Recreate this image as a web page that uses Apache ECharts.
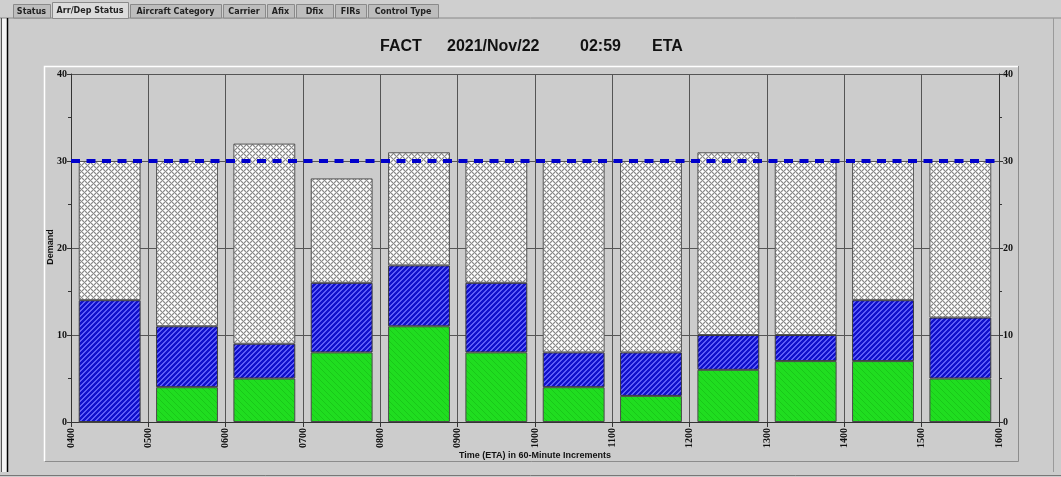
<!DOCTYPE html>
<html>
<head>
<meta charset="utf-8">
<script src="https://cdn.jsdelivr.net/npm/echarts@6/dist/echarts.min.js"></script>
<style>
html,body{margin:0;padding:0;background:#cccccc;}
#chart{width:1061px;height:477px;}
</style>
</head>
<body>
<div id="chart"></div>
<script>
// ---- data ----
const categories = ['0400','0500','0600','0700','0800','0900','1000','1100','1200','1300','1400','1500'];
const tickLabels = ['0400','0500','0600','0700','0800','0900','1000','1100','1200','1300','1400','1500','1600'];
const greenValues = [0, 4, 5, 8, 11, 8, 4, 3, 6, 7, 7, 5];
const blueValues  = [14, 7, 4, 8, 7, 8, 4, 5, 4, 3, 7, 7];
const otherValues = [16, 19, 23, 12, 13, 14, 22, 22, 21, 20, 16, 18];
const capacity = 30;
const yLabels = [0, 10, 20, 30, 40];
const tabs = ['Status','Arr/Dep Status','Aircraft Category','Carrier','Afix','Dfix','FIRs','Control Type'];
const titleParts = ['FACT','2021/Nov/22','02:59','ETA'];

// ---- patterns ----
function tile(size, fn){
  const c = document.createElement('canvas');
  c.width = size; c.height = size;
  const ctx = c.getContext('2d');
  for (let x=0;x<size;x++) for (let y=0;y<size;y++){
    ctx.fillStyle = fn(x,y);
    ctx.fillRect(x,y,1,1);
  }
  return c;
}
const bluePat = tile(5, (x,y)=> ((x+y)%5===0 || (x+y)%5===1) ? '#5c5cf8' : '#1010cc');
const greenPat = tile(6, (x,y)=> ((x-y+6)%6===0) ? '#19c819' : '#20dd20');
const hatchPat = tile(6, (x,y)=> {
  const a = (x+y)%6, b = (x-y+6)%6;
  if (a===0 || b===0) return '#8a8a8a';
  if (a===1 || b===1 || a===5 || b===5) return '#d4d4d4';
  return '#ffffff';
});

const chart = echarts.init(document.getElementById('chart'), null, {renderer:'canvas'});
const labelFont = {fontFamily:'Liberation Serif', fontWeight:'bold', fontSize:10, color:'#111'};

// tabs
const tabX = [13,52,130,223,267,296,335,368,440];
const gfx = [];
gfx.push({type:'rect', shape:{x:0,y:0,width:1061,height:18}, style:{fill:'#cfcfcf'}, z:1});
gfx.push({type:'line', shape:{x1:0,y1:18,x2:1061,y2:18}, style:{stroke:'#888',lineWidth:1}, z:2});
tabs.forEach((t,i)=>{
  const x0 = tabX[i], x1 = tabX[i+1]-2;
  const sel = i===1;
  gfx.push({type:'rect', shape:{x:x0+0.5,y:sel?2.5:4.5,width:x1-x0,height:sel?16:13.5},
    style:{fill: sel?'#dcdcdc':'#bdbdbd', stroke:'#8a8a8a', lineWidth:1}, z:3});
  gfx.push({type:'text', style:{text:t, x:(x0+x1)/2, y:sel?11:11.5, align:'center', verticalAlign:'middle',
    font:'bold 8px "DejaVu Sans"', fill:'#222'}, z:4});
});
// window frame
gfx.push({type:'line', shape:{x1:1.5,y1:18,x2:1.5,y2:472}, style:{stroke:'#555',lineWidth:1}, z:2});
gfx.push({type:'rect', shape:{x:2,y:18,width:5,height:454}, style:{fill:'#f4f4f4'}, z:1});
gfx.push({type:'line', shape:{x1:7.5,y1:18,x2:7.5,y2:472}, style:{stroke:'#000',lineWidth:1.5}, z:2});
gfx.push({type:'line', shape:{x1:1053.5,y1:18,x2:1053.5,y2:472}, style:{stroke:'#9a9a9a',lineWidth:1}, z:2});
gfx.push({type:'line', shape:{x1:0,y1:475.5,x2:1061,y2:475.5}, style:{stroke:'#777',lineWidth:1}, z:2});
// panel etched border
gfx.push({type:'polyline', shape:{points:[[44.5,461],[44.5,66.5],[1018,66.5]]}, style:{stroke:'#ffffff',lineWidth:1.5,fill:null}, z:2});
gfx.push({type:'polyline', shape:{points:[[45,461.5],[1018.5,461.5],[1018.5,66]]}, style:{stroke:'#8c8c8c',lineWidth:1,fill:null}, z:2});
// title
const titleX = [380,447,580,652];
titleParts.forEach((t,i)=>{
  gfx.push({type:'text', style:{text:t, x:titleX[i], y:47, align:'left', verticalAlign:'middle',
    font:'bold 16px "Liberation Sans"', fill:'#111'}, z:5});
});
// axis names
gfx.push({type:'text', rotation:Math.PI/2, x:51, y:247, style:{text:'Demand', x:0, y:0, align:'center', verticalAlign:'middle',
  font:'bold 9px "Liberation Sans"', fill:'#111'}, z:5});
gfx.push({type:'text', style:{text:'Time (ETA) in 60-Minute Increments', x:535, y:456, align:'center', verticalAlign:'middle',
  font:'bold 9px "Liberation Sans"', fill:'#111'}, z:5});

const yAxisCommon = {
  type:'value', min:0, max:40, interval:10,
  axisLine:{show:true, lineStyle:{color:'#333', width:1}},
  axisTick:{show:true, length:4, lineStyle:{color:'#333'}},
  minorTick:{show:true, splitNumber:2, length:3, lineStyle:{color:'#333'}},
  axisLabel:Object.assign({margin:4, formatter:(v)=> yLabels.includes(v)? String(v):''}, labelFont)
};

chart.setOption({
  backgroundColor:'#cccccc',
  animation:false,
  graphic: gfx,
  grid:{left:71, right:62, top:74, bottom:55, containLabel:false},
  xAxis:[
    {type:'category', data:categories, show:false, boundaryGap:true},
    {type:'value', min:0, max:12, interval:1, position:'bottom',
     axisLine:{show:true, onZero:false, lineStyle:{color:'#333', width:1}},
     axisTick:{show:true, length:5, lineStyle:{color:'#333'}},
     axisLabel:Object.assign({rotate:90, margin:6, formatter:(v)=>tickLabels[v]}, labelFont, {fontSize:10}),
     splitLine:{show:true, lineStyle:{color:'#555', width:1}}
    }
  ],
  yAxis:[
    Object.assign({position:'left', splitLine:{show:true, lineStyle:{color:'#555', width:1}}}, yAxisCommon),
    Object.assign({position:'right', splitLine:{show:false}}, yAxisCommon)
  ],
  series:[
    {name:'green', type:'bar', stack:'d', xAxisIndex:0, yAxisIndex:0, barWidth:'80%', data:greenValues,
     itemStyle:{color:{image:greenPat, repeat:'repeat'}, borderColor:'#4a4a4a', borderWidth:1}},
    {name:'blue', type:'bar', stack:'d', xAxisIndex:0, yAxisIndex:0, barWidth:'80%', data:blueValues,
     itemStyle:{color:{image:bluePat, repeat:'repeat'}, borderColor:'#3a3a3a', borderWidth:1}},
    {name:'other', type:'bar', stack:'d', xAxisIndex:0, yAxisIndex:0, barWidth:'80%', data:otherValues,
     itemStyle:{color:{image:hatchPat, repeat:'repeat'}, borderColor:'#555', borderWidth:1},
     markLine:{silent:true, symbol:['none','none'], label:{show:false},
       lineStyle:{color:'#0000cc', width:4, type:[9,6.5], cap:'butt'},
       data:[{yAxis:capacity}]}
    }
  ]
});
</script>
</body>
</html>
